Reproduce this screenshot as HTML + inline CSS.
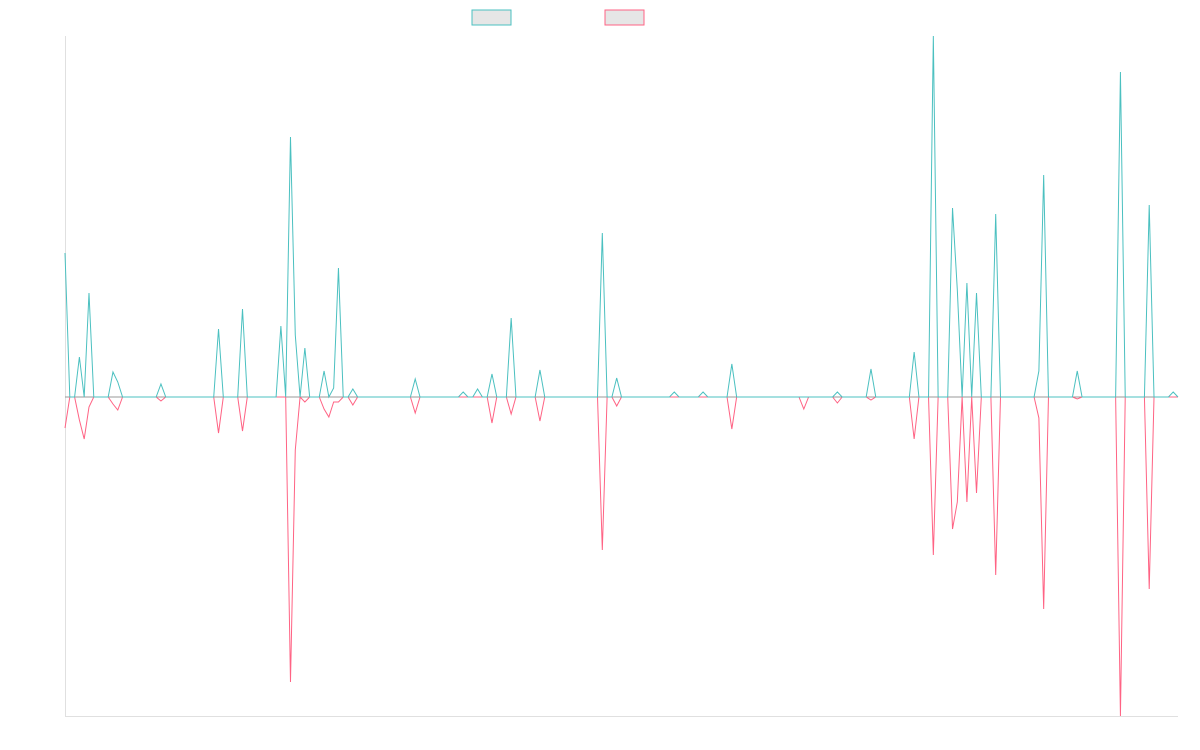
<!DOCTYPE html>
<html><head><meta charset="utf-8"><style>
html,body{margin:0;padding:0;background:#fff;width:1200px;height:750px;overflow:hidden;font-family:"Liberation Sans",sans-serif}
</style></head><body>
<svg id="chart" width="1200" height="750" xmlns="http://www.w3.org/2000/svg">
<rect x="472" y="10" width="39" height="15" fill="#e6e6e6" stroke="#4bc0c0" stroke-width="1"/>
<rect x="605" y="10" width="39" height="15" fill="#e6e6e6" stroke="#ff6384" stroke-width="1"/>
<line x1="65.5" y1="36" x2="65.5" y2="716" stroke="#e0e0e0"/>
<line x1="65" y1="716.5" x2="1178" y2="716.5" stroke="#e0e0e0"/>
<g id="plot"></g>
</svg>
<script>
const pointCount = 233;
const spikeIndex = [0,3,4,5,10,11,20,32,37,45,47,48,50,54,55,56,57,60,73,83,86,89,93,99,112,115,127,133,139,154,161,168,177,181,185,186,188,190,194,203,204,211,220,226,231];
const seriesA = [144,40,0,104,25,15,13,68,88,71,260,62,49,26,0,9,129,8,18,5,8,23,79,27,164,19,5,5,33,0,5,28,45,361,189,107,114,104,183,26,222,26,325,192,5];
const seriesB = [-31,-23,-42,-10,-7,-13,-4,-36,-34,0,-285,-53,-5,-12,-20,-5,-5,-8,-16,0,0,-26,-17,-24,-153,-9,0,0,-32,-12,-6,-3,-42,-158,-132,-105,-105,-96,-178,-21,-212,-2,-319,-192,0];
const yMin = -319, yMax = 361;
const plotLeft = 65, plotRight = 1178, plotTop = 36, plotBottom = 716;
function xs(i){ return plotLeft + i*(plotRight-plotLeft)/(pointCount-1); }
function ys(v){ return plotBottom - (v-yMin)/(yMax-yMin)*(plotBottom-plotTop); }
function build(vals){
  const arr = new Array(pointCount).fill(0);
  spikeIndex.forEach((idx,k)=>{ arr[idx]=vals[k]; });
  return arr;
}
const NS="http://www.w3.org/2000/svg";
const plot=document.getElementById('plot');
const zero=document.createElementNS(NS,'line');


zero.setAttribute('x1',plotLeft);zero.setAttribute('x2',plotRight);
zero.setAttribute('y1',ys(0));zero.setAttribute('y2',ys(0));
zero.setAttribute('stroke','#9a9a9a');zero.setAttribute('stroke-width','1');
plot.appendChild(zero);
function drawLine(vals,color,name){
  const d=build(vals).map((v,i)=>(i?'L':'M')+xs(i).toFixed(2)+' '+ys(v).toFixed(2)).join(' ');
  const p=document.createElementNS(NS,'path');
  
  
  p.setAttribute('d',d);p.setAttribute('fill','none');
  p.setAttribute('stroke',color);p.setAttribute('stroke-width','1');
  plot.appendChild(p);
}
drawLine(seriesB,'#ff6384','series-2-line');
drawLine(seriesA,'#4bc0c0','series-1-line');
</script>
</body></html>
